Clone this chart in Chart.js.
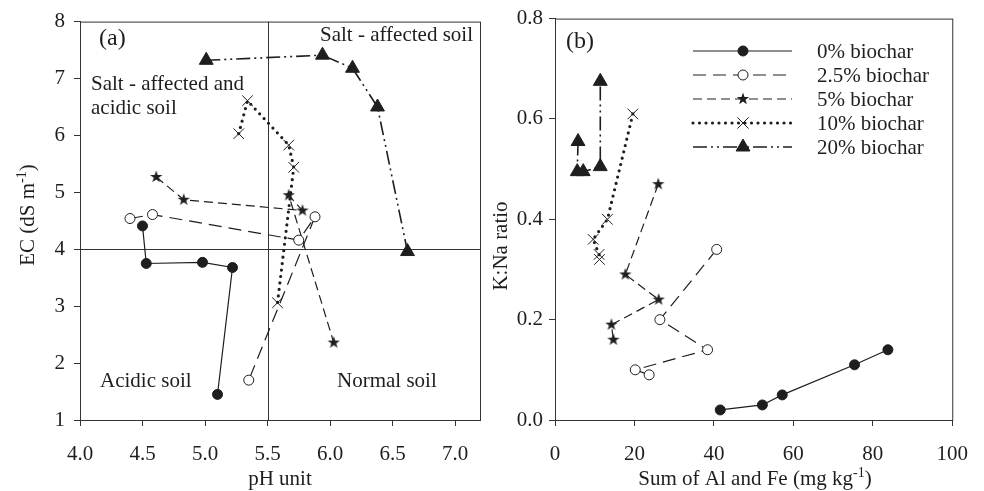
<!DOCTYPE html>
<html>
<head>
<meta charset="utf-8">
<script src="https://cdn.jsdelivr.net/npm/chart.js@4.4.1/dist/chart.umd.min.js"></script>
<style>
  body { margin: 0; background: #fff; }
  #wrap { position: relative; width: 984px; height: 491px; }
  canvas { position: absolute; top: 0; }
</style>
</head>
<body>
<div id="wrap">
  <canvas id="chartA" width="492" height="491" style="left:0px;width:492px;height:491px"></canvas>
  <canvas id="chartB" width="514" height="491" style="left:470px;width:514px;height:491px"></canvas>
</div>
<script>
// series names
const seriesNames = ["0% biochar", "2.5% biochar", "5% biochar", "10% biochar", "20% biochar"];

// panel (a): pH vs EC
const phValues = [
    [4.50, 4.53, 4.98, 5.22, 5.10],
    [4.40, 4.58, 5.75, 5.88, 5.35],
    [4.61, 4.83, 5.78, 5.67, 6.03],
    [5.27, 5.34, 5.67, 5.71, 5.58],
    [5.01, 5.94, 6.18, 6.38, 6.62],
];
const ecValues = [
    [4.41, 3.75, 3.77, 3.68, 1.45],
    [4.54, 4.61, 4.16, 4.57, 1.70],
    [5.27, 4.87, 4.68, 4.95, 2.36],
    [6.03, 6.61, 5.83, 5.44, 3.06],
    [7.32, 7.41, 7.18, 6.50, 3.96],
];

// panel (b): sum of Al and Fe vs K:Na
const alFeValues = [
    [41.6, 52.2, 57.2, 75.4, 83.8],
    [40.7, 26.4, 38.4, 20.2, 23.7],
    [26.0, 17.7, 26.1, 14.2, 14.7],
    [19.6, 13.2, 9.6, 11.1, 11.2],
    [5.8, 5.6, 7.1, 11.4, 11.4],
];
const knaValues = [
    [0.02, 0.03, 0.05, 0.11, 0.14],
    [0.34, 0.20, 0.14, 0.10, 0.09],
    [0.47, 0.29, 0.24, 0.19, 0.16],
    [0.61, 0.40, 0.36, 0.33, 0.32],
    [0.555, 0.495, 0.495, 0.505, 0.675],
];

const phTicks = [4.0, 4.5, 5.0, 5.5, 6.0, 6.5, 7.0];
const ecTicks = [1, 2, 3, 4, 5, 6, 7, 8];
const alFeTicks = [0, 20, 40, 60, 80, 100];
const knaTicks = [0, 0.2, 0.4, 0.6, 0.8];

const ink = "#1e1e1e";
const font = "Liberation Serif";
const fs = 21;

// filled star for the 5% series
const starImg = document.createElement("canvas");
starImg.width = 16;
starImg.height = 16;
(() => {
    const c = starImg.getContext("2d");
    c.fillStyle = ink;
    c.beginPath();
    for (let i = 0; i < 10; i++) {
        const r = i % 2 === 0 ? 6.5 : 2.6;
        const a = -Math.PI / 2 + i * Math.PI / 5;
        c.lineTo(8 + r * Math.cos(a), 8 + r * Math.sin(a));
    }
    c.closePath();
    c.fill();
})();

const styles = [
    { dash: [], width: 1.2, point: "circle", radius: 5, fill: ink, cap: "butt" },
    { dash: [13, 7], width: 1.2, point: "circle", radius: 5, fill: "#fff", cap: "butt" },
    { dash: [9, 5], width: 1.2, point: starImg, radius: 6, fill: ink, cap: "butt" },
    { dash: [0, 6.5], width: 3.2, point: "crossRot", radius: 7.5, fill: ink, cap: "round" },
    { dash: [14, 4, 2, 4, 2, 4], width: 1.6, point: "triangle", radius: 8, fill: ink, cap: "butt" },
];

const makeDatasets = (xs, ys) => seriesNames.map((name, i) => ({
    label: name,
    data: xs[i].map((x, j) => ({ x: x, y: ys[i][j] })),
    showLine: true,
    borderColor: ink,
    borderWidth: styles[i].width,
    borderDash: styles[i].dash,
    borderCapStyle: styles[i].cap,
    tension: 0,
    pointStyle: styles[i].point,
    pointRadius: styles[i].radius,
    pointHoverRadius: styles[i].radius,
    pointBackgroundColor: styles[i].fill,
    pointBorderColor: ink,
    pointBorderWidth: 1,
}));

const axis = (min, max, ticks, fmt, pad, size) => ({
    type: "linear",
    min: min,
    max: max,
    afterBuildTicks: (s) => { s.ticks = ticks.map(v => ({ value: v })); },
    afterFit: (s) => { if (s.isHorizontal()) s.height = size; else s.width = size; },
    ticks: {
        autoSkip: false,
        maxRotation: 0,
        padding: pad,
        color: ink,
        font: { family: font, size: fs },
        callback: fmt,
    },
    grid: { drawOnChartArea: false, drawTicks: true, tickLength: 6, color: "#333" },
    border: { color: "#333", width: 1 },
});

// rich text with superscripts, optionally rotated
function drawText(ctx, parts, cx, cy, rot) {
    ctx.save();
    ctx.translate(cx, cy);
    if (rot) ctx.rotate(-Math.PI / 2);
    ctx.textBaseline = "alphabetic";
    ctx.fillStyle = ink;
    let w = 0;
    parts.forEach(p => {
        ctx.font = (p.sup ? 14 : fs) + "px '" + font + "'";
        w += ctx.measureText(p.t).width;
    });
    let x = -w / 2;
    parts.forEach(p => {
        ctx.font = (p.sup ? 14 : fs) + "px '" + font + "'";
        ctx.fillText(p.t, x, p.sup ? -1 : 7);
        x += ctx.measureText(p.t).width;
    });
    ctx.restore();
}

function label(ctx, t, x, y, size) {
    ctx.save();
    ctx.font = (size || fs) + "px '" + font + "'";
    ctx.fillStyle = ink;
    ctx.textBaseline = "middle";
    ctx.fillText(t, x, y);
    ctx.restore();
}

const framePlugin = {
    id: "frame",
    afterDraw(chart) {
        const { ctx, chartArea: a } = chart;
        ctx.save();
        ctx.strokeStyle = "#333";
        ctx.lineWidth = 1;
        ctx.strokeRect(a.left + 0.5, a.top + 0.5, a.right - a.left, a.bottom - a.top);
        ctx.restore();
    },
};

const panelA = {
    id: "panelA",
    beforeDatasetsDraw(chart) {
        const { ctx, chartArea: a, scales } = chart;
        const px = Math.round(scales.x.getPixelForValue(5.5)) + 0.5;
        const py = Math.round(scales.y.getPixelForValue(4)) + 0.5;
        ctx.save();
        ctx.strokeStyle = "#333";
        ctx.lineWidth = 1;
        ctx.beginPath();
        ctx.moveTo(px, a.top);
        ctx.lineTo(px, a.bottom);
        ctx.moveTo(a.left, py);
        ctx.lineTo(a.right, py);
        ctx.stroke();
        ctx.restore();
    },
    afterDraw(chart) {
        const ctx = chart.ctx;
        label(ctx, "(a)", 99, 39, 24);
        label(ctx, "Salt - affected soil", 320, 35);
        label(ctx, "Salt - affected and", 91, 84);
        label(ctx, "acidic soil", 91, 108);
        label(ctx, "Acidic soil", 100, 381);
        label(ctx, "Normal soil", 337, 381);
        drawText(ctx, [{ t: "pH unit" }], 280, 478, false);
        drawText(ctx, [{ t: "EC (dS m" }, { t: "-1", sup: true }, { t: ")" }], 27, 215, true);
    },
};

const panelB = {
    id: "panelB",
    afterDraw(chart) {
        const ctx = chart.ctx;
        label(ctx, "(b)", 96, 42, 24);
        drawText(ctx, [{ t: "Sum of Al and Fe (mg kg" }, { t: "-1", sup: true }, { t: ")" }], 285, 478, false);
        drawText(ctx, [{ t: "K:Na ratio" }], 30, 246, true);
        // legend
        seriesNames.forEach((name, i) => {
            const y = 51 + i * 24;
            const st = styles[i];
            ctx.save();
            ctx.strokeStyle = ink;
            ctx.lineWidth = st.width;
            ctx.lineCap = st.cap;
            ctx.setLineDash(st.dash);
            ctx.beginPath();
            ctx.moveTo(223, y);
            ctx.lineTo(322, y);
            ctx.stroke();
            ctx.setLineDash([]);
            ctx.lineWidth = 1;
            ctx.fillStyle = st.fill;
            Chart.helpers.drawPoint(ctx, { pointStyle: st.point, radius: st.radius, rotation: 0, borderWidth: 1 }, 273, y);
            ctx.restore();
            label(ctx, name, 347, y + 1);
        });
    },
};

const common = {
    responsive: false,
    animation: false,
    plugins: { legend: { display: false }, tooltip: { enabled: false } },
};

new Chart(document.getElementById("chartA"), {
    type: "scatter",
    data: { datasets: makeDatasets(phValues, ecValues) },
    options: {
        ...common,
        layout: { padding: { top: 18, right: 12, left: 0, bottom: 0 } },
        scales: {
            x: axis(4, 7.2, phTicks, v => v.toFixed(1), 16, 71),
            y: axis(1, 8, ecTicks, v => v.toFixed(0), 9, 80),
        },
    },
    plugins: [framePlugin, panelA],
});

new Chart(document.getElementById("chartB"), {
    type: "scatter",
    data: { datasets: makeDatasets(alFeValues, knaValues) },
    options: {
        ...common,
        layout: { padding: { top: 18, right: 29, left: 0, bottom: 0 } },
        scales: {
            x: axis(0, 100, alFeTicks, v => v.toFixed(0), 16, 71),
            y: axis(0, 0.8, knaTicks, v => v.toFixed(1), 6, 85),
        },
    },
    plugins: [framePlugin, panelB],
});
</script>
</body>
</html>
